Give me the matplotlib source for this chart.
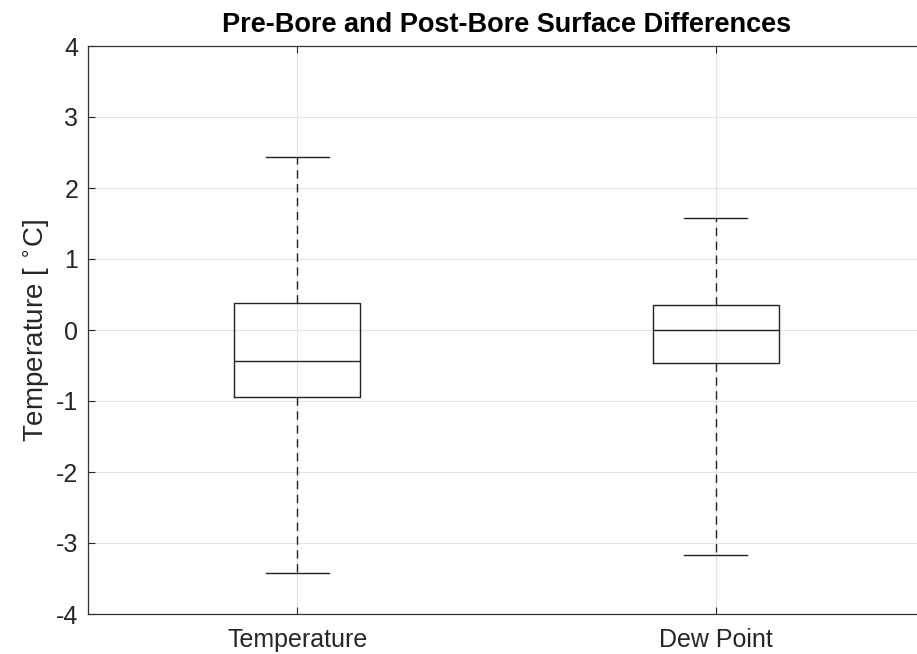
import matplotlib
matplotlib.use("Agg")
import matplotlib.pyplot as plt

plt.rcParams['font.family'] = ['Liberation Sans', 'DejaVu Sans']

# box statistics
categories = ['Temperature', 'Dew Point']
whisker_low = [-3.42, -3.17]
q1 = [-0.94, -0.47]
median = [-0.44, 0.0]
q3 = [0.38, 0.35]
whisker_high = [2.44, 1.58]
yticks = [-4, -3, -2, -1, 0, 1, 2, 3, 4]

stats = []
for i in range(len(categories)):
    stats.append({'label': categories[i], 'whislo': whisker_low[i], 'q1': q1[i],
                  'med': median[i], 'q3': q3[i], 'whishi': whisker_high[i], 'fliers': []})

fig = plt.figure(figsize=(9.17, 6.54), dpi=100)
ax = fig.add_axes([88/917, 40/654, 837/917, 568/654])

ax.grid(True, color='#e3e3e3', linewidth=0.8)
ax.set_axisbelow(True)

ax.bxp(stats, positions=[1, 2], widths=0.3, showfliers=False,
       boxprops=dict(color='#222222', linewidth=1.0),
       medianprops=dict(color='#222222', linewidth=1.0),
       whiskerprops=dict(color='#222222', linewidth=1.0, linestyle=(0, (6, 4))),
       capprops=dict(color='#222222', linewidth=1.0),
       capwidths=0.15)

ax.set_xlim(0.5, 2.5)
ax.set_ylim(-4, 4)
ax.set_yticks(yticks)
ax.set_yticklabels([str(t) for t in yticks])
ax.set_xticks([1, 2])
ax.set_xticklabels(categories)
ax.tick_params(direction='in', labelsize=18, colors='#262626', length=5,
               top=True, labelcolor='#262626')
ax.tick_params(axis='y', pad=7)
ax.tick_params(axis='x', pad=10)
for s in ax.spines.values():
    s.set_color('#333333')
    s.set_linewidth(0.9)

ax.set_ylabel('Temperature [ $^{\\circ}$C]', fontsize=20, color='#262626', labelpad=3)
ax.set_title('Pre-Bore and Post-Bore Surface Differences', fontsize=19.5,
             fontweight='bold', pad=10)

fig.savefig('out.png', dpi=100)
